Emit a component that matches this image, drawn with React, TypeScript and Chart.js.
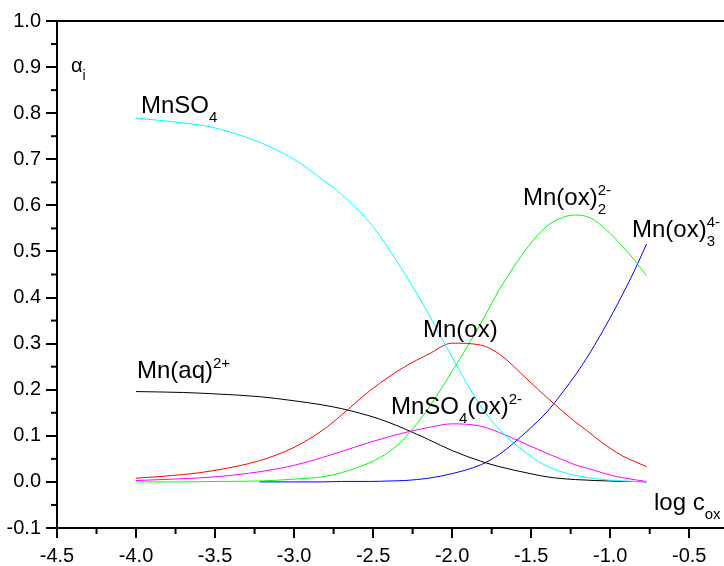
import React, { useEffect, useRef } from 'react';
import { Chart, registerables } from 'chart.js';

Chart.register(...registerables);

// log c_ox values (x axis)
const logC = [-4, -3.7, -3.5, -3.22, -3, -2.82, -2.7, -2.52, -2.4, -2.3, -2.15, -2, -1.82, -1.7, -1.52, -1.4, -1.3, -1.22, -1.15, -1.1, -1, -0.92, -0.85, -0.77];

// species fractions alpha_i
const mnSO4 = [0.789, 0.779, 0.768, 0.737, 0.700, 0.656, 0.624, 0.562, 0.505, 0.452, 0.365, 0.270, 0.165, 0.113, 0.060, 0.034, 0.021, 0.014, 0.010, 0.007, 0.004, 0.002, 0.001, 0.000];
const mnOx = [0.008, 0.016, 0.025, 0.046, 0.075, 0.112, 0.145, 0.198, 0.228, 0.250, 0.277, 0.301, 0.297, 0.277, 0.221, 0.183, 0.153, 0.130, 0.112, 0.098, 0.073, 0.056, 0.045, 0.033];
const mnSO4Ox = [0.003, 0.007, 0.011, 0.022, 0.036, 0.053, 0.066, 0.086, 0.098, 0.107, 0.118, 0.126, 0.121, 0.107, 0.080, 0.062, 0.048, 0.037, 0.030, 0.025, 0.015, 0.009, 0.005, 0.001];
const mnAq = [0.196, 0.194, 0.191, 0.185, 0.176, 0.167, 0.159, 0.143, 0.129, 0.115, 0.092, 0.068, 0.045, 0.033, 0.019, 0.011, 0.007, 0.005, 0.004, 0.003, 0.002, 0.001, 0.001, 0.000];
const mnOx2 = [0.000, 0.000, 0.001, 0.002, 0.006, 0.011, 0.020, 0.042, 0.065, 0.095, 0.160, 0.240, 0.343, 0.418, 0.510, 0.555, 0.574, 0.579, 0.576, 0.568, 0.539, 0.510, 0.483, 0.447];
const mnOx3 = [null, null, null, 0.000, 0.000, 0.000, 0.001, 0.001, 0.002, 0.003, 0.008, 0.018, 0.037, 0.060, 0.112, 0.152, 0.195, 0.232, 0.268, 0.296, 0.356, 0.408, 0.456, 0.516];

// axis ticks
const xTicks = [-4.5, -4, -3.5, -3, -2.5, -2, -1.5, -1, -0.5];
const yTicks = [-0.1, 0, 0.1, 0.2, 0.3, 0.4, 0.5, 0.6, 0.7, 0.8, 0.9, 1.0];

const FONT = "'Liberation Sans', Arial, sans-serif";

type Part = { t: string; sub?: string; sup?: string };
type Label = { x: number; y: number; parts: Part[]; size?: number; small?: number; subDy?: number; supDy?: number };

const labels: Label[] = [
  { x: 71, y: 72, parts: [{ t: 'α', sub: 'i' }], size: 20, small: 14, subDy: 8 },
  { x: 141, y: 113, parts: [{ t: 'MnSO', sub: '4' }] },
  { x: 137, y: 378, parts: [{ t: 'Mn(aq)', sup: '2+' }] },
  { x: 423, y: 337, parts: [{ t: 'Mn(ox)' }] },
  { x: 391, y: 414, parts: [{ t: 'MnSO', sub: '4' }, { t: '(ox)', sup: '2-' }] },
  { x: 523, y: 205, parts: [{ t: 'Mn(ox)', sub: '2', sup: '2-' }] },
  { x: 632, y: 237, parts: [{ t: 'Mn(ox)', sub: '3', sup: '4-' }] },
  { x: 654, y: 510, parts: [{ t: 'log c', sub: 'ox' }] },
];

const decorPlugin = {
  id: 'decor',
  afterDraw(chart: any) {
    const ctx = chart.ctx;
    const area = chart.chartArea;
    const xs = chart.scales.x;
    const ys = chart.scales.y;
    ctx.save();
    ctx.strokeStyle = '#000';
    ctx.lineWidth = 2;
    // top frame line
    ctx.beginPath();
    ctx.moveTo(area.left, area.top);
    ctx.lineTo(chart.width, area.top);
    ctx.stroke();
    // minor ticks
    for (let i = 0; i < xTicks.length; i++) {
      const m = xTicks[i] + 0.25;
      const px = xs.getPixelForValue(m);
      if (px > area.right) continue;
      ctx.beginPath();
      ctx.moveTo(px, area.bottom);
      ctx.lineTo(px, area.bottom + 6);
      ctx.stroke();
    }
    for (let i = 0; i < yTicks.length - 1; i++) {
      const m = yTicks[i] + 0.05;
      const py = ys.getPixelForValue(m);
      ctx.beginPath();
      ctx.moveTo(area.left, py);
      ctx.lineTo(area.left - 6, py);
      ctx.stroke();
    }
    // labels
    ctx.fillStyle = '#000';
    ctx.textBaseline = 'alphabetic';
    ctx.textAlign = 'left';
    for (const lb of labels) {
      const size = lb.size ?? 24;
      const small = lb.small ?? 15;
      const subDy = lb.subDy ?? 9;
      const supDy = lb.supDy ?? -10;
      let x = lb.x;
      for (const p of lb.parts) {
        ctx.font = `${size}px ${FONT}`;
        ctx.fillText(p.t, x, lb.y);
        x += ctx.measureText(p.t).width;
        ctx.font = `${small}px ${FONT}`;
        let w = 0;
        if (p.sub) {
          ctx.fillText(p.sub, x, lb.y + subDy);
          w = Math.max(w, ctx.measureText(p.sub).width);
        }
        if (p.sup) {
          ctx.fillText(p.sup, x, lb.y + supDy);
          w = Math.max(w, ctx.measureText(p.sup).width);
        }
        x += w;
      }
    }
    ctx.restore();
  },
};

function series(values: (number | null)[]) {
  return logC.map((x, i) => ({ x, y: values[i] }));
}

export default function App() {
  const ref = useRef<HTMLCanvasElement>(null);
  useEffect(() => {
    if (!ref.current) return;
    const mk = (label: string, values: (number | null)[], color: string) => ({
      label,
      data: series(values),
      borderColor: color,
      backgroundColor: color,
      borderWidth: 1,
      pointRadius: 0,
      cubicInterpolationMode: 'monotone',
      fill: false,
    });
    const chart = new Chart(ref.current, {
      type: 'line',
      data: {
        datasets: [
          mk('MnSO4', mnSO4, '#00FFFF'),
          mk('Mn(ox)', mnOx, '#FF0000'),
          mk('MnSO4(ox)2-', mnSO4Ox, '#FF00FF'),
          mk('Mn(aq)2+', mnAq, '#000000'),
          mk('Mn(ox)2 2-', mnOx2, '#00FF00'),
          mk('Mn(ox)3 4-', mnOx3, '#0000FF'),
        ],
      },
      options: {
        animation: false,
        responsive: false,
        devicePixelRatio: 1,
        layout: { padding: { top: 21, right: 0, left: 0, bottom: 0 } },
        plugins: { legend: { display: false }, tooltip: { enabled: false } },
        scales: {
          x: {
            type: 'linear',
            min: -4.5,
            max: -0.28,
            afterFit: (s: any) => { s.height = 38; },
            afterBuildTicks: (s: any) => { s.ticks = xTicks.map((v) => ({ value: v })); },
            grid: { display: true, drawOnChartArea: false, drawTicks: true, tickLength: 10, tickWidth: 2, tickColor: '#000', color: '#000', lineWidth: 2 },
            border: { display: true, color: '#000', width: 2 },
            ticks: {
              color: '#000',
              padding: 6,
              font: { size: 20, family: FONT },
              callback: (v: any) => Number(v).toFixed(1),
            },
          },
          y: {
            type: 'linear',
            min: -0.1,
            max: 1.0,
            afterFit: (s: any) => { s.width = 57; },
            afterBuildTicks: (s: any) => { s.ticks = yTicks.map((v) => ({ value: v })); },
            grid: { display: true, drawOnChartArea: false, drawTicks: true, tickLength: 11, tickWidth: 2, tickColor: '#000', color: '#000', lineWidth: 2 },
            border: { display: true, color: '#000', width: 2 },
            ticks: {
              color: '#000',
              padding: 5,
              font: { size: 20, family: FONT },
              callback: (v: any) => (Math.abs(Number(v)) < 1e-9 ? '0.0' : Number(v).toFixed(1)),
            },
          },
        },
      },
      plugins: [decorPlugin],
    } as any);
    return () => chart.destroy();
  }, []);
  return (
    <div style={{ position: 'absolute', left: 0, top: 0, width: 724, height: 566, background: '#fff' }}>
      <canvas ref={ref} width={724} height={566} style={{ display: 'block' }} />
    </div>
  );
}
